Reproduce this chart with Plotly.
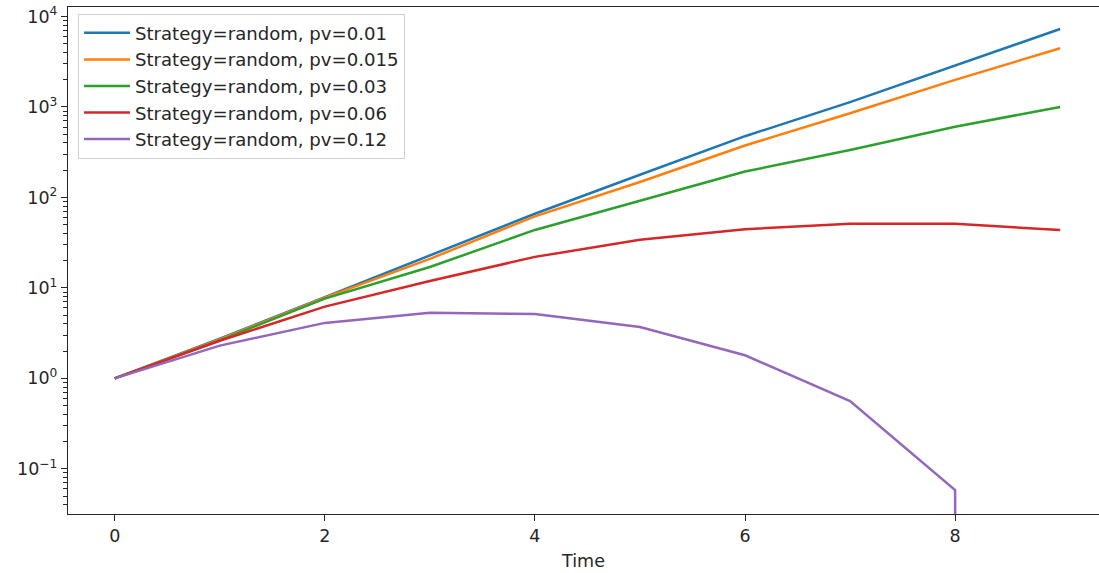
import numpy as np
import plotly.graph_objects as go

time = [0, 1, 2, 3, 4, 5, 6, 7, 8, 9]
labels = ["Strategy=random, pv=0.01", "Strategy=random, pv=0.015",
          "Strategy=random, pv=0.03", "Strategy=random, pv=0.06",
          "Strategy=random, pv=0.12"]
pv_001 = [1, 2.75, 7.9, 22.9, 66, 178, 475, 1130, 2850, 7280]
pv_0015 = [1, 2.7, 7.8, 20.9, 61.7, 148, 375, 851, 1995, 4450]
pv_003 = [1, 2.63, 7.6, 17.0, 43.7, 91.4, 193, 335, 605, 1000]
pv_006 = [1, 2.6, 6.2, 11.9, 22.0, 34.0, 44.5, 51.0, 51.0, 43.7]
pv_012 = [1, 2.3, 4.1, 5.3, 5.15, 3.7, 1.8, 0.56, 0.058, 0.0]
colors = ["#1f77b4", "#ff7f0e", "#2ca02c", "#d62728", "#9467bd"]

ytick_vals = [0.1, 1, 10, 100, 1000, 10000]
ytick_text = ["10<sup>−1</sup>", "10<sup>0</sup>", "10<sup>1</sup>",
              "10<sup>2</sup>", "10<sup>3</sup>", "10<sup>4</sup>"]
xtick_vals = [0, 2, 4, 6, 8]

series = [pv_001, pv_0015, pv_003, pv_006, pv_012]

fig = go.Figure()
for name, vals, col in zip(labels, series, colors):
    # emulate matplotlib's log-scale clipping of non-positive values
    y = [v if v > 0 else 1e-300 for v in vals]
    fig.add_trace(go.Scatter(x=time, y=y, mode="lines", name=name,
                             line=dict(color=col, width=2.5)))

minor_vals = [m * 10.0 ** d for d in range(-2, 5) for m in range(2, 10)]

font = dict(family="DejaVu Sans", size=17.5, color="#262626")
fig.update_layout(
    width=1099, height=573,
    margin=dict(l=68, r=0, t=7, b=59),
    paper_bgcolor="white", plot_bgcolor="white",
    font=font,
    showlegend=True,
    legend=dict(x=0.0097, y=0.987, xanchor="left", yanchor="top",
                bgcolor="rgba(255,255,255,0.8)", bordercolor="#d0d0d0",
                borderwidth=1, itemwidth=46,
                font=dict(family="DejaVu Sans", size=18.1, color="#262626")),
    xaxis=dict(range=[-0.445, 9.37], tickvals=xtick_vals, ticks="outside",
               ticklen=6, tickwidth=1.3, tickcolor="#262626", showline=True,
               linecolor="#262626", linewidth=1.3, mirror=True, showgrid=False,
               zeroline=False, title=dict(text="Time", standoff=9, font=font)),
    yaxis=dict(type="log", range=[-1.50, 4.105], tickvals=ytick_vals,
               ticktext=ytick_text, ticks="outside", ticklen=6, tickwidth=1.3,
               tickcolor="#262626", showline=True, linecolor="#262626",
               linewidth=1.3, showgrid=False, zeroline=False,
               minor=dict(tickvals=minor_vals, ticks="outside", ticklen=3.5,
                          tickcolor="#262626", showgrid=False)),
)

fig.write_html("out.html")
